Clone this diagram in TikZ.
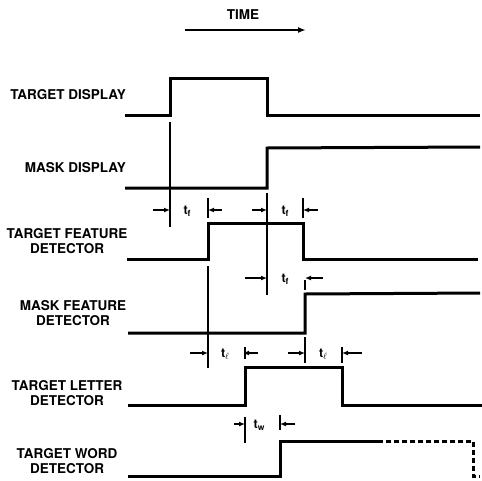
\documentclass[tikz,border=0pt]{standalone}
\usepackage{fontspec}
\setmainfont{TeX Gyre Heros}
\usetikzlibrary{arrows.meta}
\begin{document}
\begin{tikzpicture}[x={(1pt,0)},y={(0,-1pt)},
  sig/.style={line width=3pt,line join=miter},
  thin/.style={line width=1.5pt},
  dim/.style={line width=1.5pt,-{Latex[length=6pt,width=5pt]}},
  lab/.style={font=\fontsize{13.5}{15}\selectfont\bfseries,align=center,inner sep=0pt},
  tl/.style={font=\fontsize{12.5}{13}\selectfont\bfseries,inner sep=0pt}]
\useasboundingbox (0,0) rectangle (482,480);
% time
\node[lab] (time) at (243,15) {TIME};
\coordinate (ta) at (185,30); \coordinate (tb) at (306,30);
\draw[line width=2.2pt,-{Latex[length=8pt,width=6pt]}] (ta) -- (tb);
% labels
\node[lab,anchor=east] (l1) at (126,95) {TARGET DISPLAY};
\node[lab,anchor=east] (l2) at (126,168) {MASK DISPLAY};
\node[lab] (l3) at (67,241) {TARGET FEATURE\\DETECTOR};
\node[lab] (l4) at (73,313) {MASK FEATURE\\DETECTOR};
\node[lab] (l5) at (67,393) {TARGET LETTER\\DETECTOR};
\node[lab] (l6) at (67,461) {TARGET WORD\\DETECTOR};
% signals
\draw[sig] (125,115) -- (170,115) -- (170,78) -- (267,78) -- (267,115) -- (480,115);
\draw[sig] (125,188) -- (267,188) -- (267,148) -- (480,147);
\draw[sig] (127,259) -- (208,259) -- (208,223) -- (303,223) -- (303,259) -- (478,259);
\draw[sig] (128,333) -- (305,333) -- (305,294) -- (480,293);
\draw[sig] (128,405) -- (245,405) -- (245,367) -- (342,367) -- (342,405) -- (482,405);
\draw[sig] (128,476) -- (280,476) -- (280,441) -- (378,441);
\draw[sig,dash pattern=on 5pt off 3pt] (378,441) -- (473,441) -- (473,476) -- (480,476);
% guide lines
\draw[thin] (170,122) -- (170,227);
\draw[thin] (267,193) -- (267,295);
\draw[thin] (208,198) -- (208,218);
\draw[thin] (208,266) -- (208,368);
\draw[thin] (303,198) -- (303,218);
\draw[thin] (305,280) -- (305,290);
\draw[thin] (305,337) -- (305,363);
\draw[thin] (245,347) -- (245,359);
\draw[thin] (245,417) -- (245,443);
\draw[thin] (342,347) -- (342,363);
\draw[thin] (280,415) -- (280,430);
% dimension arrows
\draw[dim] (153,210) -- (170,210);
\draw[dim] (222,210) -- (208,210);
\node[tl] (tf1) at (187,211) {t\raisebox{-2pt}{\fontsize{8.5}{9}\selectfont f}};
\draw[dim] (252,210) -- (267,210);
\draw[dim] (318,210) -- (303,210);
\node[tl] (tf2) at (285,211) {t\raisebox{-2pt}{\fontsize{8.5}{9}\selectfont f}};
\draw[dim] (245,278) -- (267,278);
\draw[dim] (323,278) -- (305,278);
\node[tl] (tf3) at (285,279) {t\raisebox{-2pt}{\fontsize{8.5}{9}\selectfont f}};
\draw[dim] (190,353) -- (208,353);
\draw[dim] (258,353) -- (243,353);
\node[tl] (tl1) at (225,354) {t\raisebox{-2pt}{$\scriptstyle\ell$}};
\draw[dim] (288,353) -- (305,353);
\draw[dim] (362,353) -- (342,353);
\node[tl] (tl2) at (323,354) {t\raisebox{-2pt}{$\scriptstyle\ell$}};
\draw[dim] (234,424) -- (245,424);
\draw[dim] (295,424) -- (280,424);
\node[tl] (tw) at (259,425) {t\raisebox{-2pt}{\fontsize{8.5}{9}\selectfont w}};
\end{tikzpicture}
\end{document}
